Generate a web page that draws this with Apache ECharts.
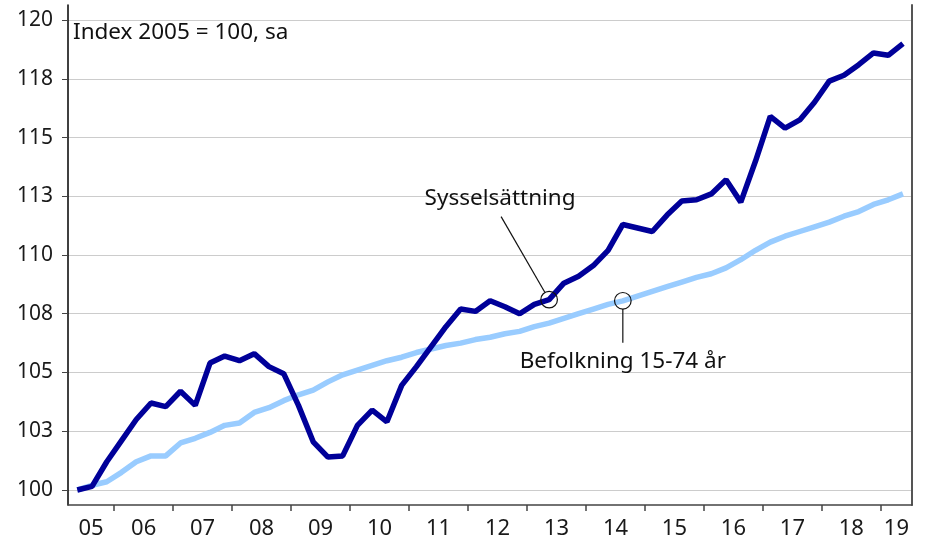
<!DOCTYPE html>
<html lang="sv">
<head>
    <meta charset="UTF-8">
    <title>Sysselsättning och befolkning</title>
    <script src="https://cdn.jsdelivr.net/npm/echarts@6/dist/echarts.min.js"></script>
    <style>
        body { margin: 0; padding: 0; background: #ffffff; }
        #chart { width: 925px; height: 551px; }
    </style>
</head>
<body>
<div id="chart"></div>

<script>
    // kvartal från 2005 K2 till 2019 K2
    const startYear = 2005;
    const startQuarter = 2;
    const yearLabels = ['05', '06', '07', '08', '09', '10', '11', '12', '13', '14', '15', '16', '17', '18', '19'];
    const yTicks = [100, 102.5, 105, 107.5, 110, 112.5, 115, 117.5, 120];

    // Sysselsättning, index 2005 = 100
    const sysselsattning = [
        100.0, 100.15, 101.2, 102.1, 103.0, 103.7, 103.55, 104.2, 103.6, 105.4,
        105.7, 105.5, 105.8, 105.25, 104.95, 103.6, 102.05, 101.4, 101.45, 102.75,
        103.4, 102.9, 104.45, 105.25, 106.1, 106.95, 107.7, 107.6, 108.05, 107.8,
        107.5, 107.9, 108.1, 108.8, 109.1, 109.55, 110.2, 111.3, 111.15, 111.0,
        111.7, 112.3, 112.35, 112.6, 113.2, 112.25, 114.0, 115.9, 115.4, 115.75,
        116.5, 117.4, 117.65, 118.1, 118.6, 118.5, 119.0
    ];

    // Befolkning 15-74 år, index 2005 = 100
    const befolkning = [
        100.0, 100.2, 100.35, 100.75, 101.2, 101.45, 101.45, 102.0, 102.2, 102.45,
        102.75, 102.85, 103.3, 103.5, 103.8, 104.05, 104.25, 104.6, 104.9, 105.1,
        105.3, 105.5, 105.65, 105.85, 106.0, 106.15, 106.25, 106.4, 106.5, 106.65,
        106.75, 106.95, 107.1, 107.3, 107.5, 107.7, 107.9, 108.05, 108.25, 108.45,
        108.65, 108.85, 109.05, 109.2, 109.45, 109.8, 110.2, 110.55, 110.8, 111.0,
        111.2, 111.4, 111.65, 111.85, 112.15, 112.35, 112.6
    ];

    // tidpunkt (år) för mitten av varje kvartal
    const quarterTimes = sysselsattning.map((_, i) => {
        const q = startQuarter - 1 + i;
        return startYear + Math.floor(q / 4) + ((q % 4) + 0.5) / 4;
    });

    const xMin = 2005.2175;
    const xMax = 2019.528;
    const yMin = 99.36;
    const yMax = 120.64;

    const yearTicks = [];
    for (let y = 2006; y <= 2019; y++) yearTicks.push(y);
    const labelPos = [(xMin + 2006) / 2];
    for (let y = 2006; y <= 2018; y++) labelPos.push(y + 0.5);
    labelPos.push((2019 + xMax) / 2);

    const FONT = 'Noto Sans';
    const chart = echarts.init(document.getElementById('chart'));

    chart.setOption({
        animation: false,
        grid: { left: 68, right: 13, top: 5, bottom: 46 },
        xAxis: {
            type: 'value',
            min: xMin,
            max: xMax,
            axisLine: { show: true, lineStyle: { color: '#444', width: 1.5 } },
            axisTick: { show: true, customValues: yearTicks, length: 6, lineStyle: { color: '#444', width: 1.5 } },
            axisLabel: {
                customValues: labelPos,
                formatter: v => yearLabels[Math.floor(v) - startYear],
                fontFamily: FONT, fontSize: 22, color: '#1a1a1a', margin: 13
            },
            splitLine: { show: false }
        },
        yAxis: [{
            type: 'value',
            min: yMin,
            max: yMax,
            axisLine: { show: true, lineStyle: { color: '#000', width: 1.5 } },
            axisTick: { show: true, customValues: yTicks, length: 6, lineStyle: { color: '#444' } },
            axisLabel: {
                customValues: yTicks,
                formatter: v => String(Math.round(v)),
                fontFamily: FONT, fontSize: 21, color: '#1a1a1a', margin: 15
            },
            splitLine: { show: true, lineStyle: { color: '#cccccc', width: 1.2 } }
        }, {
            type: 'value',
            position: 'right',
            min: yMin,
            max: yMax,
            axisLine: { show: true, lineStyle: { color: '#555', width: 2 } },
            axisTick: { show: false },
            axisLabel: { show: false },
            splitLine: { show: false }
        }],
        series: [{
            name: 'Befolkning 15-74 år',
            type: 'line',
            data: quarterTimes.map((t, i) => [t, befolkning[i]]),
            showSymbol: false,
            lineStyle: { color: '#99ccff', width: 5.5 },
            z: 2
        }, {
            name: 'Sysselsättning',
            type: 'line',
            data: quarterTimes.map((t, i) => [t, sysselsattning[i]]),
            showSymbol: false,
            lineStyle: { color: '#000099', width: 5.5 },
            z: 3
        }]
    });

    // anteckningar med ringar på datapunkter
    const p1 = chart.convertToPixel({ seriesIndex: 1 }, [quarterTimes[32], sysselsattning[32]]);
    const p2 = chart.convertToPixel({ seriesIndex: 0 }, [quarterTimes[37], befolkning[37]]);
    const r = 8.3;
    const t1 = [p1[0] - 48, p1[1] - 83];
    const len1 = Math.hypot(t1[0] - p1[0], t1[1] - p1[1]);
    const s1 = [p1[0] + (t1[0] - p1[0]) / len1 * r, p1[1] + (t1[1] - p1[1]) / len1 * r];

    chart.setOption({
        graphic: [
            { type: 'text', left: 73, top: 21, style: { text: 'Index 2005 = 100, sa', fontFamily: FONT, fontSize: 22.5, fill: '#111' } },
            { type: 'circle', shape: { cx: p1[0], cy: p1[1], r: r }, style: { fill: 'none', stroke: '#111', lineWidth: 1.2 }, z: 10 },
            { type: 'line', shape: { x1: s1[0], y1: s1[1], x2: t1[0], y2: t1[1] }, style: { stroke: '#111', lineWidth: 1.2 }, z: 10 },
            { type: 'text', x: p1[0] - 49, y: p1[1] - 101, style: { text: 'Sysselsättning', fontFamily: FONT, fontSize: 22.5, fill: '#111', align: 'center', verticalAlign: 'middle' }, z: 10 },
            { type: 'circle', shape: { cx: p2[0], cy: p2[1], r: r }, style: { fill: 'none', stroke: '#111', lineWidth: 1.2 }, z: 10 },
            { type: 'line', shape: { x1: p2[0], y1: p2[1] + r, x2: p2[0], y2: p2[1] + 42 }, style: { stroke: '#111', lineWidth: 1.2 }, z: 10 },
            { type: 'text', x: p2[0], y: p2[1] + 61, style: { text: 'Befolkning 15-74 år', fontFamily: FONT, fontSize: 22.5, fill: '#111', align: 'center', verticalAlign: 'middle' }, z: 10 }
        ]
    });
</script>
</body>
</html>
